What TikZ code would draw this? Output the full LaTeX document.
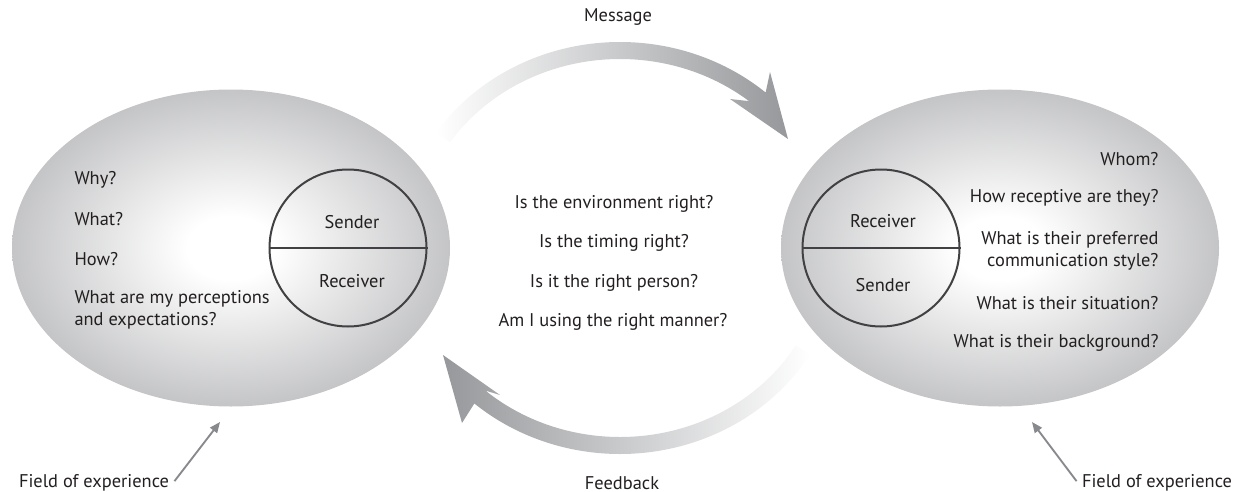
\documentclass[tikz,border=0pt]{standalone}
\usepackage{fontspec}
\setmainfont{PT Sans}
\usetikzlibrary{calc}
\usetikzlibrary{positioning}
\usetikzlibrary{shapes.geometric}
\usetikzlibrary{arrows.meta}
\definecolor{inkgray}{RGB}{35,31,32}
\definecolor{rimgray}{RGB}{65,64,66}
\definecolor{edgegray}{RGB}{158,159,162}
\definecolor{arrowgray}{RGB}{150,152,155}
\definecolor{pointgray}{RGB}{135,137,140}
\pgfdeclareradialshading{fieldglow}{\pgfpoint{0bp}{0bp}}{color(0bp)=(white); color(5bp)=(white); color(38bp)=(edgegray); color(100bp)=(edgegray)}
\tikzset{every picture/.style={line width=0.75pt}}

\begin{document}
\begin{tikzpicture}[x=0.75pt,y=0.75pt,yscale=-1,xscale=1,
  txt/.style={inner sep=0.75pt, text=inkgray, font=\fontsize{13.8}{16.5}\selectfont},
  field/.style={ellipse, shade, shading=fieldglow, minimum width=328.5pt, minimum height=237.75pt, inner sep=0pt},
  role/.style={circle, draw=rimgray, line width=1.5pt, minimum size=117.75pt, inner sep=0pt},
  pointer/.style={draw=pointgray, line width=1.4pt, -{Triangle[length=8pt,width=6.5pt]}}]
\path[use as bounding box] (0,0) rectangle (1241,492);

%Fields of experience
\node[field] (fieldL) at (231,248) {};
\node[field] (fieldR) at (1000,248) {};

%Sender / receiver circles
\node[role] (roleL) at (348,248) {};
\draw[rimgray, line width=1.5pt] (roleL.west) -- (roleL.east);
\node[role] (roleR) at (881,248) {};
\draw[rimgray, line width=1.5pt] (roleR.west) -- (roleR.east);
\node[txt] (sendL) at (352,222) {Sender};
\node[txt] (recvL) at (352,281) {Receiver};
\node[txt] (recvR) at (883,221) {Receiver};
\node[txt] (sendR) at (883,285) {Sender};

%Message and feedback loop
\coordinate (loop) at (620,248);
\shade[left color=white, right color=arrowgray] ($(loop)+(214:222 and 206)$) arc[start angle=214, end angle=311, x radius=222, y radius=206] -- (770,72) -- (788,139) -- (730,99) -- ($(loop)+(309:205 and 189)$) arc[start angle=309, end angle=214, x radius=205, y radius=189] -- cycle;
\shade[left color=arrowgray, right color=white] ($(loop)+(31:222 and 206)$) arc[start angle=31, end angle=131, x radius=222, y radius=206] -- (462,423) -- (443,355) -- (500,395) -- ($(loop)+(131:205 and 189)$) arc[start angle=131, end angle=31, x radius=205, y radius=189] -- cycle;
\node[txt] (msg) at (618,17) {Message};
\node[txt] (fbk) at (622,483) {Feedback};

%Sender questions
\node[txt, anchor=west] (why) at (73,180) {Why?};
\node[txt, anchor=west] (what) at (73,219) {What?};
\node[txt, anchor=west] (how) at (73,259) {How?};
\node[txt, anchor=west, align=left] (percept) at (73,310) {What are my perceptions\\and expectations?};

%Receiver questions
\node[txt, anchor=east] (whom) at (1160,159) {Whom?};
\node[txt, anchor=east] (recept) at (1160,198) {How receptive are they?};
\node[txt, anchor=east, align=right] (style) at (1160,250.5) {What is their preferred\ \\communication style?};
\node[txt, anchor=east] (situ) at (1160,303) {What is their situation?};
\node[txt, anchor=east] (backgr) at (1160,343) {What is their background?};

%Context questions
\node[txt] (envir) at (614,204) {Is the environment right?};
\node[txt] (timing) at (614,243) {Is the timing right?};
\node[txt] (person) at (614,283) {Is it the right person?};
\node[txt] (manner) at (613,322) {Am I using the right manner?};

%Field labels
\node[txt] (expL) at (94,483) {Field of experience};
\node[txt] (expR) at (1157,483) {Field of experience};
\coordinate (hitL) at (220,422);
\coordinate (hitR) at (1032,422);
\draw[pointer] ([shift={(3pt,6pt)}]expL.north east) -- (hitL);
\draw[pointer] ([shift={(-3pt,6pt)}]expR.north west) -- (hitR);

\end{tikzpicture}
\end{document}
